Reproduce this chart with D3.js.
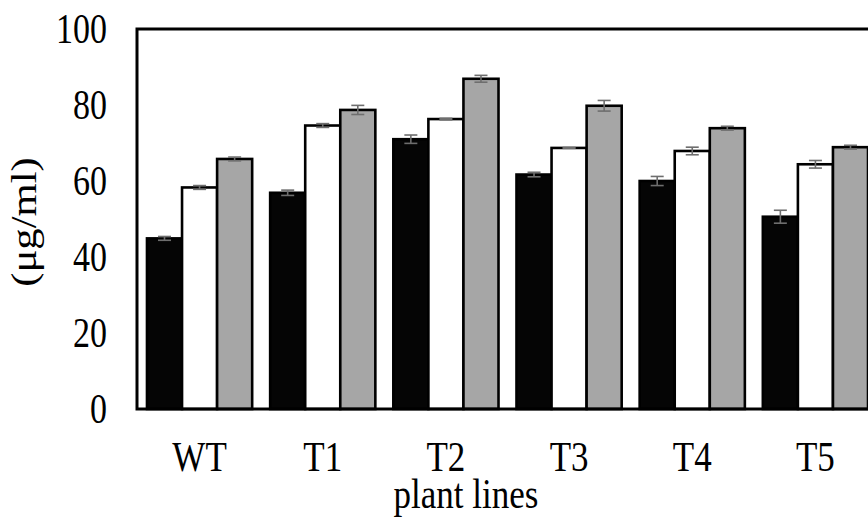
<!DOCTYPE html>
<html>
<head>
<meta charset="utf-8">
<script src="https://cdn.jsdelivr.net/npm/d3@7"></script>
<style>
  html, body { margin: 0; padding: 0; background: #fff; }
  svg { display: block; }
</style>
</head>
<body>
<svg id="chart" width="868" height="518"></svg>
<script>
// data
const lines = ['WT', 'T1', 'T2', 'T3', 'T4', 'T5']
const series = ['s1', 's2', 's3']
const s1 = [44.9, 56.9, 71.0, 61.7, 60.0, 50.6]
const s2 = [58.3, 74.6, 76.3, 68.7, 67.9, 64.4]
const s3 = [65.8, 78.7, 86.9, 79.8, 73.9, 68.9]
const e1 = [0.5, 0.7, 1.1, 0.6, 1.2, 1.7]
const e2 = [0.5, 0.5, 0.2, 0.1, 1.0, 1.0]
const e3 = [0.5, 1.2, 0.9, 1.4, 0.5, 0.5]
const yTicks = [0, 20, 40, 60, 80, 100]
const fills = ['#050505', '#ffffff', '#a6a6a6']

const values = [s1, s2, s3]
const errors = [e1, e2, e3]
let rows = []
lines.forEach((l, i) => {
  series.forEach((s, j) => {
    rows.push({ line: l, series: s, idx: j, value: values[j][i], err: errors[j][i] })
  })
})

const svg = d3.select('#chart')
const plotLeft = 137, plotRight = 878, plotTop = 29, plotBottom = 409
const stretch = 'scale(1,1.22)'
const serif = '"Liberation Serif", "Times New Roman", serif'

let x = d3.scaleBand().domain(lines).range([plotLeft, plotRight]).paddingInner(0.146).paddingOuter(0.081)
let xs = d3.scaleBand().domain(series).range([0, x.bandwidth()])
let y = d3.scaleLinear().domain([0, 100]).range([plotBottom, plotTop])

// bars
let g = svg.append('g')
g.selectAll('rect').data(rows).enter().append('rect')
  .attr('x', d => x(d.line) + xs(d.series))
  .attr('y', d => y(d.value))
  .attr('width', xs.bandwidth())
  .attr('height', d => y(0) - y(d.value))
  .attr('fill', d => fills[d.idx])
  .attr('stroke', '#000')
  .attr('stroke-width', 2.6)

// error bars
let eb = svg.append('g').attr('stroke', '#6e6e6e').attr('stroke-width', 1.6)
rows.forEach(d => {
  let cx = x(d.line) + xs(d.series) + xs.bandwidth() / 2
  eb.append('line').attr('x1', cx).attr('x2', cx).attr('y1', y(d.value + d.err)).attr('y2', y(d.value - d.err))
  eb.append('line').attr('x1', cx - 6.5).attr('x2', cx + 6.5).attr('y1', y(d.value + d.err)).attr('y2', y(d.value + d.err))
  eb.append('line').attr('x1', cx - 6.5).attr('x2', cx + 6.5).attr('y1', y(d.value - d.err)).attr('y2', y(d.value - d.err))
})

// frame
svg.append('rect')
  .attr('x', plotLeft).attr('y', plotTop)
  .attr('width', plotRight - plotLeft).attr('height', plotBottom - plotTop)
  .attr('fill', 'none').attr('stroke', '#000').attr('stroke-width', 3)

// y axis labels
let ya = svg.append('g').attr('transform', 'translate(' + plotLeft + ',0)')
  .call(d3.axisLeft(y).tickValues(yTicks).tickSize(0).tickPadding(30))
ya.select('.domain').remove()
ya.selectAll('text')
  .attr('font-family', serif)
  .attr('font-size', 34).attr('fill', '#000')
  .attr('transform', stretch)

// x axis labels
let xa = svg.append('g').attr('transform', 'translate(0,' + plotBottom + ')')
  .call(d3.axisBottom(x).tickSize(0).tickPadding(0))
xa.select('.domain').remove()
xa.selectAll('text')
  .attr('font-family', serif)
  .attr('font-size', 35).attr('fill', '#000')
  .attr('dy', null).attr('y', 0)
  .attr('transform', 'translate(0,62) ' + stretch)

// axis titles
svg.append('text')
  .attr('transform', 'translate(466,508) ' + stretch)
  .attr('text-anchor', 'middle')
  .attr('font-family', serif)
  .attr('font-size', 35)
  .text('plant lines')

svg.append('text')
  .attr('transform', 'translate(36,222) ' + stretch + ' rotate(-90)')
  .attr('text-anchor', 'middle')
  .attr('font-family', serif)
  .attr('font-size', 35)
  .text('(μg/ml)')
</script>
</body>
</html>
